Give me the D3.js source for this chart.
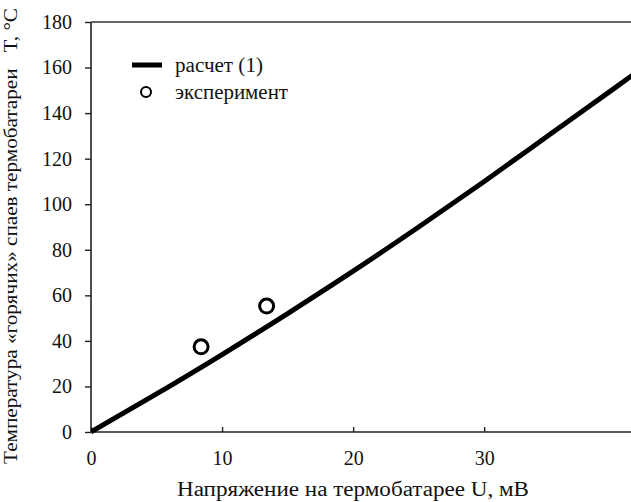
<!DOCTYPE html>
<html>
<head>
<meta charset="utf-8">
<script src="https://cdn.jsdelivr.net/npm/d3@7"></script>
<style>
  html, body { margin: 0; padding: 0; background: #fff; }
  svg { display: block; }
</style>
</head>
<body>
<svg id="chart" width="631" height="502"></svg>
<script>
// Calculated curve (1)
const calcU = [0, 5, 10, 15, 20, 25, 30, 35, 40, 42];
const calcT = [0, 16.7, 34, 52, 70.6, 90, 110, 130.6, 151.2, 159.5];
// Experiment points
const expU = [8.4, 13.4];
const expT = [37.4, 55.3];
// Ticks
const xTicks = [0, 10, 20, 30];
const yTicks = [0, 20, 40, 60, 80, 100, 120, 140, 160, 180];
const xLabel = "Напряжение на термобатарее U, мВ";
const yLabel = "Температура «горячих» спаев термобатареи   T, °C";
const legendLabels = ["расчет (1)", "эксперимент"];

(function () {
  const FONT = '"Times New Roman", "Liberation Serif", Tinos, serif';
  const FS = 20;
  const svg = d3.select("#chart");
  const pL = 91, pT = 22, pB = 432, pR = 631;

  const x = d3.scaleLinear().domain([0, 41.2]).range([pL, pR]);
  const y = d3.scaleLinear().domain([0, 180]).range([pB, pT]);

  svg.append("defs").append("clipPath").attr("id", "clip")
    .append("rect").attr("x", pL).attr("y", pT - 5).attr("width", pR - pL).attr("height", pB - pT + 10);

  const xAxis = d3.axisBottom(x).tickValues(xTicks).tickSize(-5).tickPadding(19).tickFormat(d3.format("d"));
  const gx = svg.append("g").attr("transform", `translate(0,${pB})`).call(xAxis);
  const yAxis = d3.axisLeft(y).tickValues(yTicks).tickSize(6).tickPadding(13).tickFormat(d3.format("d"));
  const gy = svg.append("g").attr("transform", `translate(${pL},0)`).call(yAxis);
  [gx, gy].forEach(g => {
    g.attr("font-family", FONT).attr("font-size", FS);
    g.select(".domain").attr("stroke", "#222").attr("stroke-width", 1.6);
    g.selectAll(".tick line").attr("stroke", "#222").attr("stroke-width", 1.4);
    g.selectAll(".tick text").attr("fill", "#111");
  });
  gx.select(".domain").attr("d", `M${pL},0H${pR}`);
  gy.select(".domain").attr("d", `M0,${pB}V${pT}`);

  svg.append("line").attr("x1", pL).attr("x2", pR).attr("y1", pT).attr("y2", pT)
    .attr("stroke", "#333").attr("stroke-width", 1.6);

  const calcData = calcU.map((u, i) => [u, calcT[i]]);
  svg.append("path").datum(calcData)
    .attr("clip-path", "url(#clip)")
    .attr("fill", "none").attr("stroke", "#000").attr("stroke-width", 5)
    .attr("d", d3.line().x(d => x(d[0])).y(d => y(d[1])).curve(d3.curveMonotoneX));

  const expData = expU.map((u, i) => [u, expT[i]]);
  svg.append("g").selectAll("circle").data(expData).join("circle")
    .attr("cx", d => x(d[0])).attr("cy", d => y(d[1])).attr("r", 7)
    .attr("fill", "#fff").attr("stroke", "#000").attr("stroke-width", 3);

  const lg = svg.append("g");
  lg.append("line").attr("x1", 132).attr("x2", 162).attr("y1", 65).attr("y2", 65)
    .attr("stroke", "#000").attr("stroke-width", 5);
  lg.append("circle").attr("cx", 146).attr("cy", 92).attr("r", 5)
    .attr("fill", "#fff").attr("stroke", "#000").attr("stroke-width", 2);
  const legendLen = [88, 113];
  lg.selectAll("text").data(legendLabels).join("text")
    .attr("x", 175).attr("y", (d, i) => 65 + i * 27).attr("dy", "0.35em")
    .attr("font-family", FONT).attr("font-size", FS).attr("fill", "#111")
    .attr("textLength", (d, i) => legendLen[i]).attr("lengthAdjust", "spacingAndGlyphs")
    .text(d => d);

  svg.append("text").attr("x", 353).attr("y", 496)
    .attr("text-anchor", "middle").attr("font-family", FONT).attr("font-size", FS)
    .attr("textLength", 352).attr("lengthAdjust", "spacingAndGlyphs")
    .attr("fill", "#111").text(xLabel);
  svg.append("text").attr("transform", `translate(17,236) rotate(-90)`)
    .attr("text-anchor", "middle").attr("font-family", FONT).attr("font-size", 18)
    .attr("textLength", 456).attr("lengthAdjust", "spacingAndGlyphs")
    .attr("fill", "#111").style("white-space", "pre").text(yLabel);
})();
</script>
</body>
</html>
